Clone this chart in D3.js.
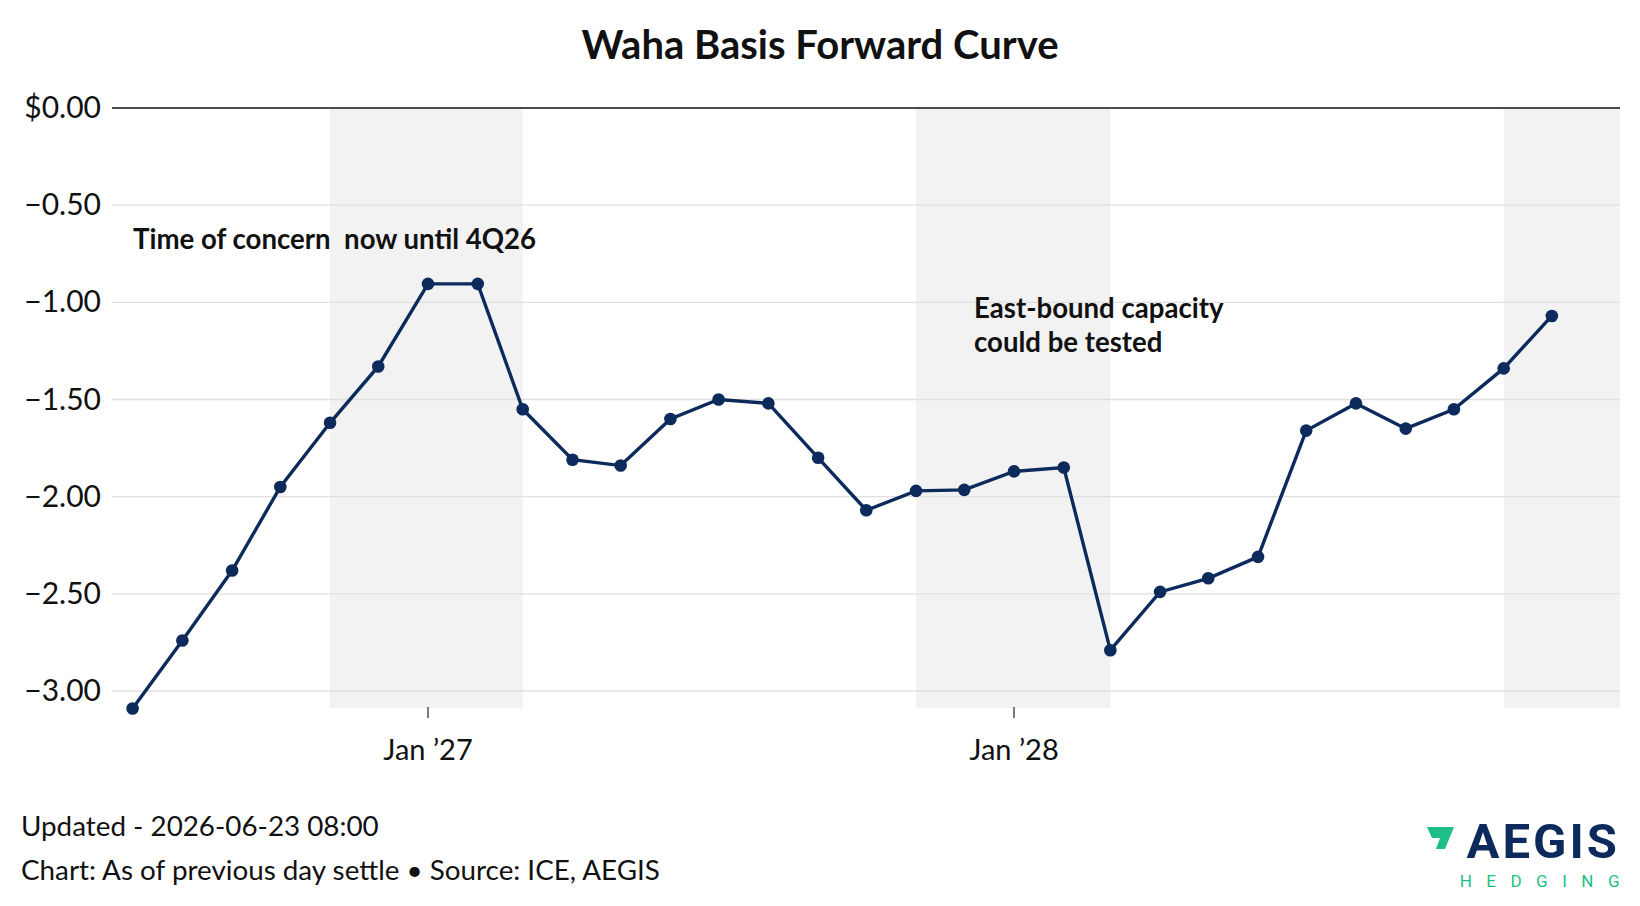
<!DOCTYPE html>
<html><head><meta charset="utf-8">
<script src="https://cdn.jsdelivr.net/npm/d3@7"></script>
<style>body{margin:0;background:#fff}svg{font-family:Lato,sans-serif}</style>
</head><body><svg id="c" width="1640" height="906"></svg>
<script>
const months = d3.range(30).map(i => new Date(2026, 6 + i, 1));
const values = [-3.09,-2.74,-2.38,-1.95,-1.62,-1.33,-0.905,-0.905,-1.55,-1.81,-1.84,-1.60,-1.50,-1.52,-1.80,-2.07,-1.97,-1.965,-1.87,-1.85,-2.79,-2.49,-2.42,-2.31,-1.66,-1.52,-1.65,-1.55,-1.34,-1.07];
const yTicks = [0,-0.5,-1,-1.5,-2,-2.5,-3];
const xTicks = [new Date(2027,0,1), new Date(2028,0,1)];
const winters = [[new Date(2026,10,1),new Date(2027,2,1)],[new Date(2027,10,1),new Date(2028,2,1)],[new Date(2028,10,1),new Date(2029,2,1)]];

const svg = d3.select("#c");
const x = d3.scaleTime().domain([new Date(2027,0,1), new Date(2028,0,1)]).range([428,1014]);
const y = d3.scaleLinear().domain([-3,0]).range([691,108]);
const L=112,R=1620,B=708;

svg.append("g").selectAll("rect").data(winters).join("rect")
 .attr("x",d=>x(d[0])).attr("width",d=>Math.min(R,x(d[1]))-x(d[0]))
 .attr("y",108).attr("height",B-108).attr("fill","#f2f2f2");
svg.append("g").selectAll("line").data(yTicks.filter(d=>d!==0)).join("line")
 .attr("x1",L).attr("x2",R).attr("y1",d=>y(d)).attr("y2",d=>y(d)).attr("stroke","#e0e0e0").attr("stroke-width",1.3);
svg.append("line").attr("x1",L).attr("x2",R).attr("y1",y(0)).attr("y2",y(0)).attr("stroke","#111").attr("stroke-width",1.5);
const fmt = d => d===0 ? "$0.00" : "\u2212"+Math.abs(d).toFixed(2);
svg.append("g").selectAll("text").data(yTicks).join("text")
 .attr("x",101).attr("y",d=>y(d)+10).attr("text-anchor","end").attr("font-size",30).attr("fill","#111").text(fmt);
const xg = svg.append("g").selectAll("g").data(xTicks).join("g");
xg.append("line").attr("x1",d=>x(d)).attr("x2",d=>x(d)).attr("y1",707).attr("y2",718).attr("stroke","#333").attr("stroke-width",1.3);
xg.append("text").attr("x",d=>x(d)).attr("y",760).attr("text-anchor","middle").attr("font-size",29).attr("fill","#111")
 .text(d=>"Jan \u2019"+String(d.getFullYear()).slice(2));

const line = d3.line().x((d,i)=>x(months[i])).y(d=>y(d));
svg.append("path").datum(values).attr("d",line).attr("fill","none").attr("stroke","#0c2a5b").attr("stroke-width",3.4);
svg.append("g").selectAll("circle").data(values).join("circle")
 .attr("cx",(d,i)=>x(months[i])).attr("cy",d=>y(d)).attr("r",6.3).attr("fill","#0c2a5b");

svg.append("text").attr("x",820).attr("y",59).attr("text-anchor","middle").attr("font-size",40).attr("font-weight",700).attr("fill","#111").text("Waha Basis Forward Curve");
const ann = svg.append("g").attr("font-size",27.6).attr("font-weight",700).attr("fill","#111");
ann.append("text").attr("x",133).attr("y",249).attr("xml:space","preserve").text("Time of concern  now until 4Q26");
ann.append("text").attr("x",974).attr("y",318).text("East-bound capacity");
ann.append("text").attr("x",974).attr("y",352).text("could be tested");

const ft = svg.append("g").attr("font-size",27.8).attr("fill","#111");
ft.append("text").attr("x",21).attr("y",836).text("Updated - 2026-06-23 08:00");
ft.append("text").attr("x",21).attr("y",880).text("Chart: As of previous day settle \u2022 Source: ICE, AEGIS");

const lg = svg.append("g");
lg.append("path").attr("d","M1427,827 L1454,827 L1445,849 L1436,849 L1440,838 L1432,838 Z").attr("fill","#1dbf87");
lg.append("text").attr("x",1620).attr("y",858).attr("text-anchor","end").attr("font-size",49).attr("font-weight",700).attr("font-family","Roboto, sans-serif").attr("fill","#0c2a5b").attr("letter-spacing",3).text("AEGIS");
lg.append("text").attr("x",1634).attr("y",887).attr("text-anchor","end").attr("font-size",17).attr("font-family","Roboto, sans-serif").attr("fill","#1dbf87").attr("letter-spacing",14.5).text("HEDGING");
</script></body></html>
